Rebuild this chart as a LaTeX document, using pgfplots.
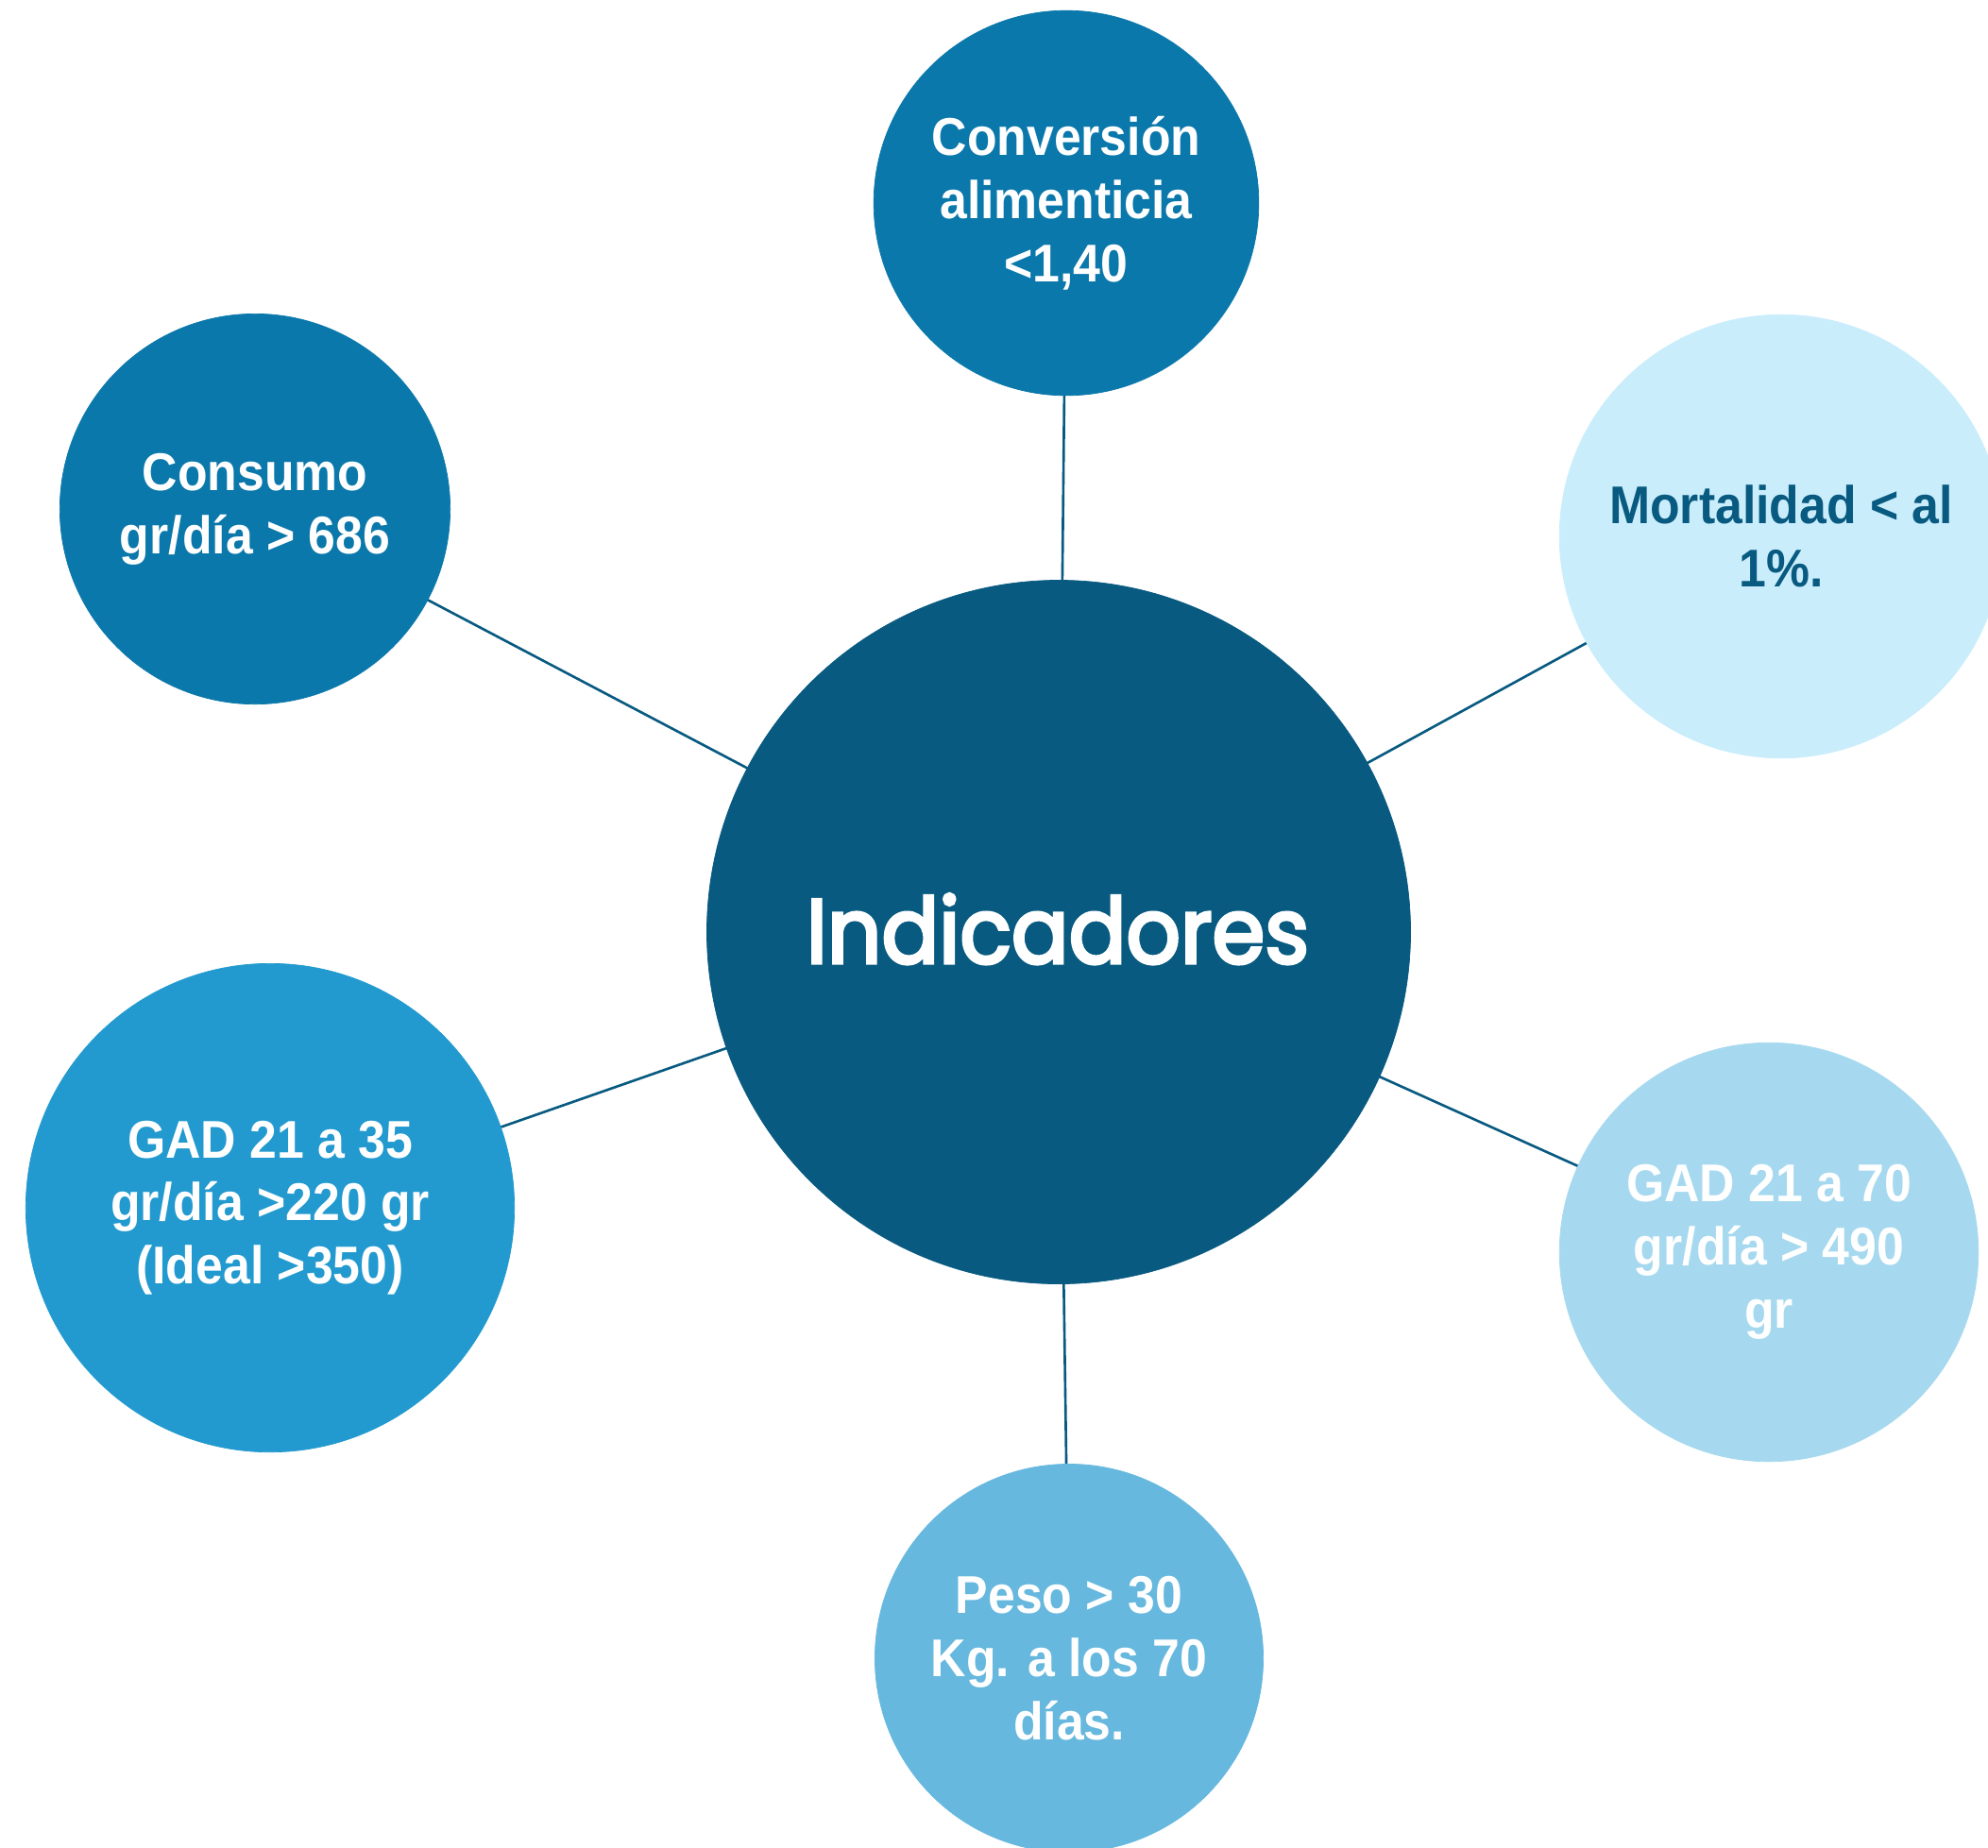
\documentclass[border=0pt]{standalone}
\usepackage{fontspec}
\setmainfont{Liberation Sans}[FakeStretch=0.92]
\newfontfamily\poppins{Poppins}[FakeBold=3.5, FakeStretch=0.93]
\usepackage{pgfplots}
\pgfplotsset{compat=1.18}
\definecolor{cTop}{HTML}{0B78AB}
\definecolor{cMid}{HTML}{085A80}
\definecolor{cMort}{HTML}{CAEDFC}
\definecolor{cG35}{HTML}{239ACF}
\definecolor{cG70}{HTML}{A6D9EF}
\definecolor{cPeso}{HTML}{67B8DE}
\definecolor{cLine}{HTML}{085A80}
\tikzset{lbl/.style={font=\bfseries\fontsize{16}{19}\selectfont, align=center, anchor=center, inner sep=0pt}}
\pgfplotsset{bub/.style={only marks, mark=*}}
\begin{document}
\begin{tikzpicture}
\begin{axis}[
  scale only axis, width=210.5mm, height=195.6mm,
  xmin=0, xmax=2105, ymin=0, ymax=1956, y dir=reverse,
  hide axis, clip=false]
% connecting lines (centre to each indicator)
\addplot[cLine, line width=0.75pt, no marks] coordinates {(1121,987) (1129,215)};
\addplot[cLine, line width=0.75pt, no marks] coordinates {(1121,987) (270,539)};
\addplot[cLine, line width=0.75pt, no marks] coordinates {(1121,987) (1886,568)};
\addplot[cLine, line width=0.75pt, no marks] coordinates {(1121,987) (286,1279)};
\addplot[cLine, line width=0.75pt, no marks] coordinates {(1121,987) (1873,1326)};
\addplot[cLine, line width=0.75pt, no marks] coordinates {(1121,987) (1132,1756)};
% circles
\addplot[bub, mark size=106.0pt, mark options={fill=cMid, draw=cMid, line width=0.2pt}] coordinates {(1121,987)};
\addplot[bub, mark size=58.0pt, mark options={fill=cTop, draw=cTop, line width=0.2pt},
  nodes near coords={Conversión\\alimenticia\\<1,40},
  every node near coord/.append style={lbl, text=white}] coordinates {(1129,215)};
\addplot[bub, mark size=58.8pt, mark options={fill=cTop, draw=cTop, line width=0.2pt},
  nodes near coords={Consumo\\gr/día > 686},
  every node near coord/.append style={lbl, text=white}] coordinates {(270,539)};
\addplot[bub, mark size=66.8pt, mark options={fill=cMort, draw=cMort, line width=0.2pt},
  nodes near coords={Mortalidad < al\\1\%.},
  every node near coord/.append style={lbl, text=cMid}] coordinates {(1886,568)};
\addplot[bub, mark size=73.6pt, mark options={fill=cG35, draw=cG35, line width=0.2pt},
  nodes near coords={GAD 21 a 35\\gr/día >220 gr\\(Ideal >350)},
  every node near coord/.append style={lbl, text=white}] coordinates {(286,1279)};
\addplot[bub, mark size=63.1pt, mark options={fill=cG70, draw=cG70, line width=0.2pt},
  nodes near coords={GAD 21 a 70\\gr/día > 490\\gr},
  every node near coord/.append style={lbl, text=white}] coordinates {(1873,1326)};
\addplot[bub, mark size=58.5pt, mark options={fill=cPeso, draw=cPeso, line width=0.2pt},
  nodes near coords={Peso > 30\\Kg. a los 70\\días.},
  every node near coord/.append style={lbl, text=white}] coordinates {(1132,1756)};
% central label
\addplot[only marks, mark=none,
  nodes near coords={Indicadores},
  every node near coord/.append style={font=\poppins\fontsize{27.5}{32}\selectfont, text=white, anchor=base, inner sep=0pt}] coordinates {(1120,1020)};
\end{axis}
\pgfresetboundingbox
\useasboundingbox (current axis.south west) rectangle (current axis.north east);
\end{tikzpicture}
\end{document}
